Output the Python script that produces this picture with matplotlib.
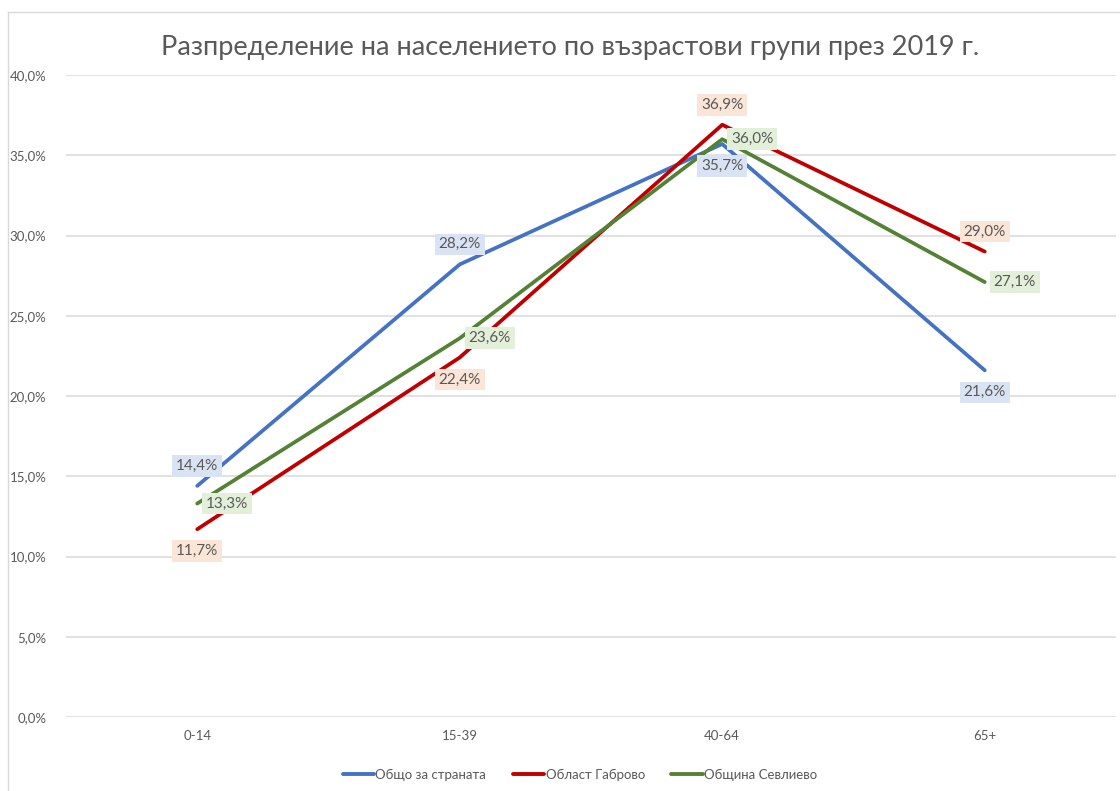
import matplotlib
matplotlib.use("Agg")
import matplotlib.pyplot as plt
from matplotlib.lines import Line2D
from matplotlib.ticker import FuncFormatter, MultipleLocator

plt.rcParams['font.family'] = ['Lato', 'DejaVu Sans']

categories = ["0-14", "15-39", "40-64", "65+"]
series_names = ["Общо за страната", "Област Габрово", "Община Севлиево"]
obshto = [14.4, 28.2, 35.7, 21.6]
gabrovo = [11.7, 22.4, 36.9, 29.0]
sevlievo = [13.3, 23.6, 36.0, 27.1]
title = "Разпределение на населението по възрастови групи през 2019 г."

colors = ["#4472C4", "#C00000", "#548235"]
box_colors = ["#DAE3F3", "#FBE5D6", "#E2F0D9"]
placements = [
    ["above", "above", "below", "below"],
    ["below", "below", "above", "above"],
    ["right", "right", "right", "right"],
]

W, H = 1120, 791
fig = plt.figure(figsize=(W / 100, H / 100), dpi=100)
fig.patch.set_facecolor("white")

left, right = 66 / W, 1116 / W
top_px, bot_px = 75, 717
ax = fig.add_axes([left, 1 - bot_px / H, right - left, (bot_px - top_px) / H])

x = list(range(len(categories)))
data = [obshto, gabrovo, sevlievo]
for vals, col in zip(data, colors):
    ax.plot(x, vals, color=col, lw=2.7, solid_capstyle="round", solid_joinstyle="round", zorder=3)

ax.set_xlim(-0.5, len(categories) - 0.5)
ax.set_ylim(0, 40)
ax.yaxis.set_major_locator(MultipleLocator(5))
ax.yaxis.set_major_formatter(FuncFormatter(lambda v, p: f"{v:.1f}%".replace(".", ",")))
ax.set_xticks(x)
ax.set_xticklabels(categories)
ax.tick_params(axis="both", length=0, labelsize=9.5, colors="#595959")
ax.tick_params(axis="y", pad=14)
ax.tick_params(axis="x", pad=9)
ax.grid(axis="y", color="#D9D9D9", lw=1.1)
ax.set_axisbelow(True)
for s in ax.spines.values():
    s.set_visible(False)

offsets = {
    "above": (0, 20, "center", "center"),
    "below": (0, -22, "center", "center"),
    "right": (9, 0, "left", "center"),
}
for vals, bc, pl in zip(data, box_colors, placements):
    for xi, v, p in zip(x, vals, pl):
        dx, dy, ha, va = offsets[p]
        ax.annotate(f"{v:.1f}%".replace(".", ","), (xi, v), xytext=(dx * 0.72, dy * 0.72),
                    textcoords="offset points", ha=ha, va=va, fontsize=11,
                    color="#595959", zorder=5,
                    bbox=dict(boxstyle="square,pad=0.25", fc=bc, ec="none"))

fig.text(570 / W, 1 - 48 / H, title, ha="center", va="center", fontsize=19.5, color="#595959")

handles = [Line2D([0], [0], color=c, lw=2.8, solid_capstyle="round") for c in colors]
fig.legend(handles, series_names, loc="center", bbox_to_anchor=(580 / W, 1 - 775 / H),
           ncol=3, frameon=False, fontsize=9.5, labelcolor="#595959",
           handlelength=2.4, handletextpad=0.1, columnspacing=2.0)

fig.add_artist(Line2D([8 / W, 1], [1 - 12 / H, 1 - 12 / H], transform=fig.transFigure, color="#D9D9D9", lw=1))
fig.add_artist(Line2D([8 / W, 8 / W], [0, 1 - 12 / H], transform=fig.transFigure, color="#D9D9D9", lw=1))

fig.savefig("out.png", dpi=100, facecolor="white")
